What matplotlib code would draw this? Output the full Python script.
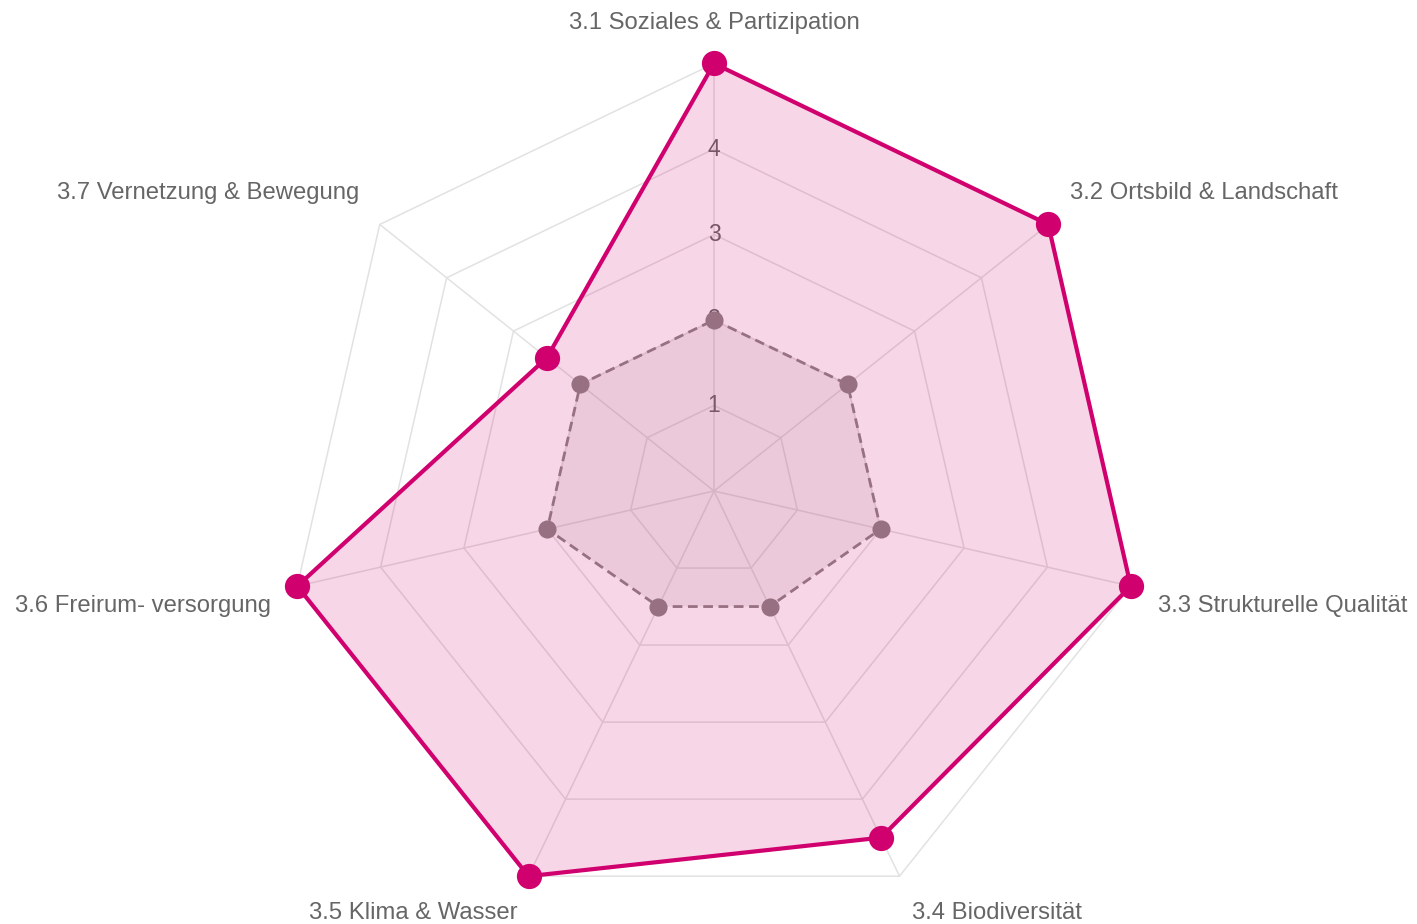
import numpy as np
from matplotlib import pyplot

plt = pyplot
plt.rcParams["font.family"] = ["Liberation Sans", "DejaVu Sans"]

categories = [
    "3.1 Soziales & Partizipation",
    "3.2 Ortsbild & Landschaft",
    "3.3 Strukturelle Qualität",
    "3.4 Biodiversität",
    "3.5 Klima & Wasser",
    "3.6 Freirum- versorgung",
    "3.7 Vernetzung & Bewegung",
]
main_values = [5, 5, 5, 4.5, 5, 5, 2.5]
reference_values = [2, 2, 2, 1.5, 1.5, 2, 2]
ring_levels = [1, 2, 3, 4, 5]
tick_labels = ["1", "2", "3", "4"]

# label offsets from outer vertex, in pixels (dx, dy, ha)
label_layout = [
    (0, 41, "center"),
    (22, 31, "left"),
    (27, -20, "left"),
    (13, -37, "left"),
    (-11, -37, "right"),
    (-26, -20, "right"),
    (-21, 31, "right"),
]

main_color = "#d1006f"
ref_color = "#977081"
grid_color = "#e2e2e2"
text_color = "#666666"

n = len(categories)
angles = np.arange(n) * 2 * np.pi / n


def to_xy(values):
    values = np.asarray(values, dtype=float)
    return values * np.sin(angles), values * np.cos(angles)


fig = plt.figure(figsize=(14.17, 9.24), dpi=100)
ax = fig.add_axes([0, 0, 1, 1])
scale = 85.5
cx, cy = 714, 491
ax.set_xlim(-cx / scale, (1417 - cx) / scale)
ax.set_ylim(-(924 - cy) / scale, cy / scale)
ax.axis("off")

# grid rings and spokes
for level in ring_levels:
    gx, gy = to_xy([level] * n)
    ax.plot(np.append(gx, gx[0]), np.append(gy, gy[0]),
            color=grid_color, lw=1.1, zorder=1)
ox, oy = to_xy([ring_levels[-1]] * n)
for x, y in zip(ox, oy):
    ax.plot([0, x], [0, y], color=grid_color, lw=1.1, zorder=1)

# tick labels along first axis
for i, t in enumerate(tick_labels):
    ax.text(0, i + 1, t, ha="center", va="center", fontsize=16.5,
            color=text_color, zorder=2)

# main series
mx, my = to_xy(main_values)
ax.fill(mx, my, color=main_color, alpha=0.16, lw=0, zorder=3)
ax.plot(np.append(mx, mx[0]), np.append(my, my[0]), color=main_color,
        lw=3, zorder=5)
ax.scatter(mx, my, s=330, color=main_color, zorder=6, linewidths=0)

# reference series
rx, ry = to_xy(reference_values)
ax.fill(rx, ry, color=ref_color, alpha=0.12, lw=0, zorder=3)
ax.plot(np.append(rx, rx[0]), np.append(ry, ry[0]), color=ref_color,
        lw=2, ls=(0, (3.5, 2)), zorder=5)
ax.scatter(rx, ry, s=170, color=ref_color, zorder=6, linewidths=0)

# category labels
for i, name in enumerate(categories):
    dx, dy, ha = label_layout[i]
    ax.annotate(name, xy=(ox[i], oy[i]), xytext=(dx, dy),
                textcoords="offset pixels", ha=ha, va="center",
                fontsize=17.2, color=text_color)

pyplot.savefig("out.png", dpi=100)
